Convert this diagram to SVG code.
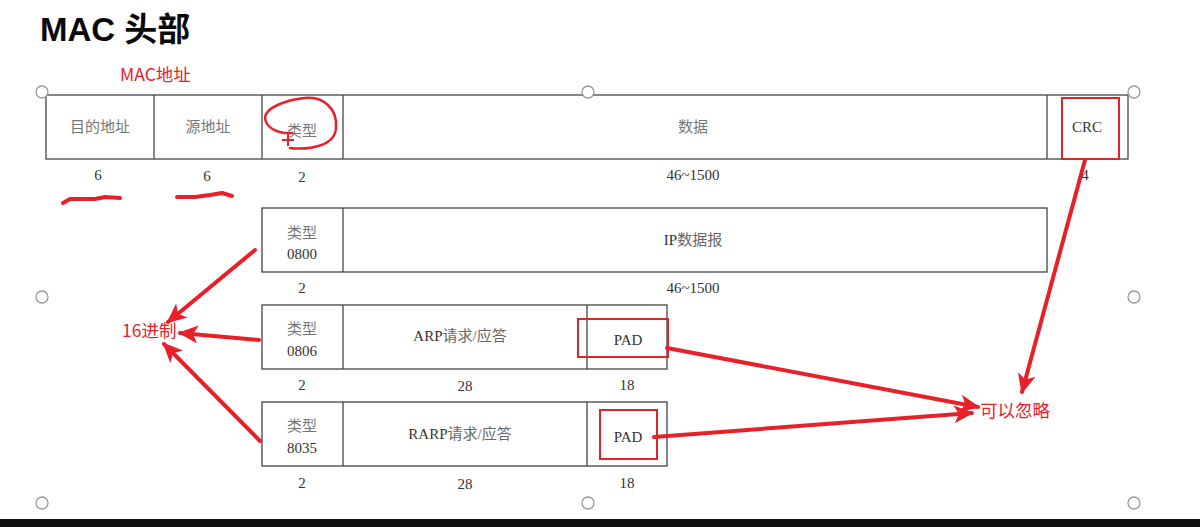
<svg xmlns="http://www.w3.org/2000/svg" width="1200" height="527" viewBox="0 0 1200 527">
<style>
.box{fill:none;stroke:#444;stroke-width:1.3}
.div{stroke:#444;stroke-width:1.3}
.cn{font-family:"Liberation Serif","Noto Sans CJK SC",serif;font-size:15px;fill:#777;text-anchor:middle}
.t{font-family:"Liberation Serif","Noto Sans CJK SC",serif;font-size:15px;fill:#333;text-anchor:middle}
.red{font-family:"Noto Sans CJK SC","Liberation Sans",sans-serif;font-size:17.5px;fill:#e8202a}
.hl{fill:none;stroke:#e8202a;stroke-width:2}
.arr{stroke:#e8202a;stroke-width:4;fill:none;stroke-linecap:round}
.h{fill:#fff;stroke:#999;stroke-width:1.3}
</style>
<defs>
<marker id="ah" markerUnits="userSpaceOnUse" markerWidth="22" markerHeight="20" refX="18" refY="9" orient="auto">
<path d="M0,0 L20,9 L0,18 L5,9 Z" fill="#e8202a"/>
</marker>
</defs>
<rect width="1200" height="527" fill="#fff"/>
<rect x="0" y="519" width="1200" height="8" fill="#111"/>
<text x="40" y="41" font-family="'Liberation Sans','Noto Sans CJK SC',sans-serif" font-weight="bold" font-size="33" fill="#0a0a0a">MAC 头部</text>
<text class="red" x="120" y="81">MAC地址</text>

<g id="frame">
<rect class="box" x="46" y="95" width="1082" height="64"/>
<line class="div" x1="154" y1="95" x2="154" y2="159"/>
<line class="div" x1="262" y1="95" x2="262" y2="159"/>
<line class="div" x1="343" y1="95" x2="343" y2="159"/>
<line class="div" x1="1047" y1="95" x2="1047" y2="159"/>
<text class="cn" x="100" y="132">目的地址</text>
<text class="cn" x="208" y="132">源地址</text>
<text class="cn" x="302" y="136">类型</text>
<text class="cn" x="693" y="132">数据</text>
<text class="t" x="1087" y="132">CRC</text>
<text class="t" x="98" y="180">6</text>
<text class="t" x="207" y="181">6</text>
<text class="t" x="302" y="182">2</text>
<text class="t" x="693" y="180">46~1500</text>
<text class="t" x="1085" y="180">4</text>
</g>

<g id="ip">
<rect class="box" x="262" y="208" width="785" height="64"/>
<line class="div" x1="343" y1="208" x2="343" y2="272"/>
<text class="cn" x="302" y="238">类型</text>
<text class="t" x="302" y="259">0800</text>
<text class="t" x="693" y="245">IP<tspan fill="#666">数据报</tspan></text>
<text class="t" x="302" y="293">2</text>
<text class="t" x="693" y="293">46~1500</text>
</g>

<g id="arp">
<rect class="box" x="262" y="305" width="405" height="64"/>
<line class="div" x1="343" y1="305" x2="343" y2="369"/>
<line class="div" x1="587" y1="305" x2="587" y2="369"/>
<text class="cn" x="302" y="334">类型</text>
<text class="t" x="302" y="356">0806</text>
<text class="t" x="460" y="341">ARP<tspan fill="#666">请求/应答</tspan></text>
<text class="t" x="628" y="345">PAD</text>
<text class="t" x="302" y="390">2</text>
<text class="t" x="465" y="391">28</text>
<text class="t" x="627" y="390">18</text>
</g>

<g id="rarp">
<rect class="box" x="262" y="402" width="405" height="64"/>
<line class="div" x1="343" y1="402" x2="343" y2="466"/>
<line class="div" x1="587" y1="402" x2="587" y2="466"/>
<text class="cn" x="302" y="431">类型</text>
<text class="t" x="302" y="453">8035</text>
<text class="t" x="460" y="439">RARP<tspan fill="#666">请求/应答</tspan></text>
<text class="t" x="628" y="442">PAD</text>
<text class="t" x="302" y="488">2</text>
<text class="t" x="465" y="489">28</text>
<text class="t" x="627" y="488">18</text>
</g>

<g id="handles">
<circle class="h" cx="42" cy="92" r="6"/>
<circle class="h" cx="588" cy="92" r="6"/>
<circle class="h" cx="1134" cy="92" r="6"/>
<circle class="h" cx="42" cy="297" r="6"/>
<circle class="h" cx="1134" cy="297" r="6"/>
<circle class="h" cx="42" cy="503" r="6"/>
<circle class="h" cx="588" cy="503" r="6"/>
<circle class="h" cx="1134" cy="503" r="6"/>
</g>

<g id="annotations">
<rect class="hl" x="1062" y="98" width="57" height="61"/>
<rect class="hl" x="578" y="319" width="90" height="38"/>
<rect class="hl" x="600" y="410" width="57" height="49"/>
<path d="M290,148 C310,150 335,146 336,128 C338,108 322,96 305,98 C285,100 265,108 265,118 C266,128 278,134 292,133" fill="none" stroke="#e8202a" stroke-width="2.5" stroke-linecap="round"/>
<path d="M288,134 L288,146 M282,140 L294,140" stroke="#e8202a" stroke-width="2"/>
<path d="M63,203 L70,199 L95,199 L105,197 L120,198" stroke="#e8202a" stroke-width="4" stroke-linecap="round" stroke-linejoin="round" fill="none"/>
<path d="M177,197 L195,197 L210,195 L222,193 L232,196" stroke="#e8202a" stroke-width="4" stroke-linecap="round" stroke-linejoin="round" fill="none"/>
<text class="red" x="122" y="337">16进制</text>
<text class="red" x="980" y="417">可以忽略</text>
</g>

<g id="connectors">
<line class="arr" x1="255" y1="250" x2="168" y2="322" marker-end="url(#ah)"/>
<line class="arr" x1="259" y1="340" x2="180" y2="333" marker-end="url(#ah)"/>
<line class="arr" x1="260" y1="441" x2="164" y2="344" marker-end="url(#ah)"/>
<line class="arr" x1="1085" y1="160" x2="1022" y2="392" marker-end="url(#ah)"/>
<line class="arr" x1="667" y1="348" x2="978" y2="407" marker-end="url(#ah)"/>
<line class="arr" x1="654" y1="437" x2="972" y2="413" marker-end="url(#ah)"/>
</g>
</svg>
